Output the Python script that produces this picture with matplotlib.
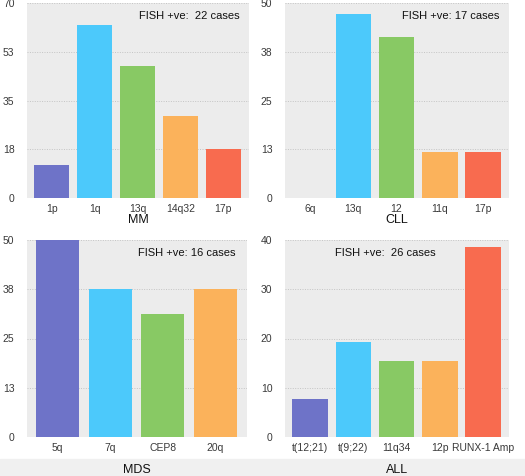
import matplotlib.pyplot as plt
from matplotlib.patches import Rectangle

plt.rcParams['font.family'] = ['Liberation Sans', 'DejaVu Sans']

# data (percent of FISH positive cases)
mm_labels = ['1p', '1q', '13q', '14q32', '17p']
mm_values = [12, 62, 47.3, 29.6, 17.5]
mm_ticks = [0, 17.5, 35, 52.5, 70]

cll_labels = ['6q', '13q', '12', '11q', '17p']
cll_values = [0, 47.1, 41.2, 11.8, 11.8]
cll_ticks = [0, 12.5, 25, 37.5, 50]

mds_labels = ['5q', '7q', 'CEP8', '20q']
mds_values = [50, 37.5, 31.25, 37.5]
mds_ticks = [0, 12.5, 25, 37.5, 50]

all_labels = ['t(12;21)', 't(9;22)', '11q34', '12p', 'RUNX-1 Amp']
all_values = [7.7, 19.2, 15.4, 15.4, 38.5]
all_ticks = [0, 10, 20, 30, 40]

colors = ['#6e73c8', '#4cc9fb', '#88c964', '#fbb25b', '#f86b4f']

W, H = 525, 476
fig = plt.figure(figsize=(W / 100, H / 100), dpi=100)
fig.patches.append(Rectangle((0, 0), 1, 17 / H, transform=fig.transFigure,
                             color='#f0f0f0', zorder=-5))


def panel(rect, labels, values, ticks, name, note, note_x, note_ha, labelpad):
    x0, y0, x1, y1 = rect
    ax = fig.add_axes([x0 / W, 1 - y1 / H, (x1 - x0) / W, (y1 - y0) / H])
    ax.set_facecolor('#ececec')
    pos = list(range(len(labels)))
    ax.bar(pos, values, width=0.82, color=colors[:len(labels)], zorder=2)
    ax.set_xlim(-0.58, len(labels) - 0.4)
    ax.set_ylim(0, ticks[-1])
    ax.set_yticks(ticks)
    ax.set_yticklabels([str(int(t + 0.5)) for t in ticks])
    ax.set_xticks(pos)
    ax.set_xticklabels(labels)
    ax.tick_params(axis='y', length=0, pad=9, labelsize=7.5, colors='#3a3a3a')
    ax.tick_params(axis='x', length=0, pad=4, labelsize=7.5, colors='#3a3a3a')
    for t in ticks[1:]:
        ax.axhline(t, color='#c4c4c4', lw=0.7, ls=(0, (1, 1.5)), zorder=1)
    for s in ax.spines.values():
        s.set_visible(False)
    ax.set_xlabel(name, fontsize=9, labelpad=labelpad, color='#111111')
    ax.text(note_x, 0.935, note, transform=ax.transAxes, ha=note_ha, va='center',
            fontsize=8, color='#111111')
    return ax


panel((27, 3, 249, 198), mm_labels, mm_values, mm_ticks, 'MM',
      'FISH +ve:  22 cases', 0.96, 'right', 0.5)
panel((285, 3, 509, 198), cll_labels, cll_values, cll_ticks, 'CLL',
      'FISH +ve: 17 cases', 0.955, 'right', 0.5)
panel((27, 240, 247, 437), mds_labels, mds_values, mds_ticks, 'MDS',
      'FISH +ve: 16 cases', 0.95, 'right', 8)
panel((285, 240, 509, 437), all_labels, all_values, all_ticks, 'ALL',
      'FISH +ve:  26 cases', 0.45, 'center', 8)

fig.savefig('out.png', dpi=100)
